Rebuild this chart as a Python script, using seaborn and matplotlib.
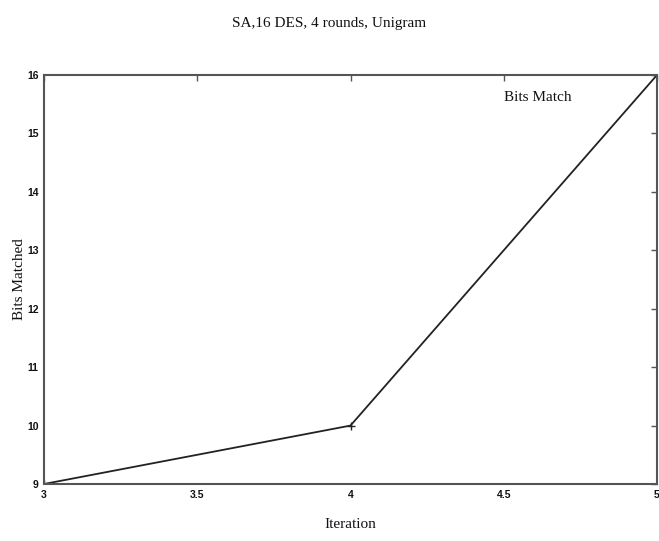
import matplotlib
matplotlib.use("Agg")
import matplotlib.pyplot as plt
import seaborn as sns
import pandas as pd

iterations = [3, 4, 5]
bits_matched = [9, 10, 16]
x_ticks = [3, 3.5, 4, 4.5, 5]
y_ticks = [9, 10, 11, 12, 13, 14, 15, 16]

sns.set_style("white")
df = pd.DataFrame({"Iteration": iterations, "Bits Matched": bits_matched})

fig = plt.figure(figsize=(6.59, 5.41), dpi=100)
ax = fig.add_axes([44/659, 1-484/541, (657-44)/659, (484-75)/541])
sns.lineplot(data=df, x="Iteration", y="Bits Matched", ax=ax, color="#222222",
             linewidth=1.3, marker="+", markersize=6, markeredgecolor="#222222",
             markeredgewidth=1.0)
ax.set_xlim(3, 5)
ax.set_ylim(9, 16)
ax.set_xticks(x_ticks)
ax.set_xticklabels(["3", "3.5", "4", "4.5", "5"])
ax.set_yticks(y_ticks)
for s in ax.spines.values():
    s.set_visible(True)
    s.set_color("#555555")
    s.set_linewidth(1.5)
ax.tick_params(direction="in", length=4, width=1, colors="#555555",
               top=True, right=True, labelsize=7.5, labelcolor="#111111", pad=4)
for lab in ax.get_xticklabels() + ax.get_yticklabels():
    lab.set_fontweight("bold")
    lab.set_family("Liberation Sans")
ax.set_xlabel("Iteration", family="Liberation Serif", fontsize=11, labelpad=13, color="#111111")
ax.set_ylabel("Bits Matched", family="Liberation Serif", fontsize=11, labelpad=1, color="#111111")
ax.text(0.75, 0.945, "Bits Match", transform=ax.transAxes, family="Liberation Serif",
        fontsize=11, color="#111111", va="center", ha="left")
fig.suptitle("SA,16 DES, 4 rounds, Unigram", family="Liberation Serif", fontsize=11,
             y=1-23/541, va="center", color="#111111")
fig.savefig("out.png", dpi=100)
